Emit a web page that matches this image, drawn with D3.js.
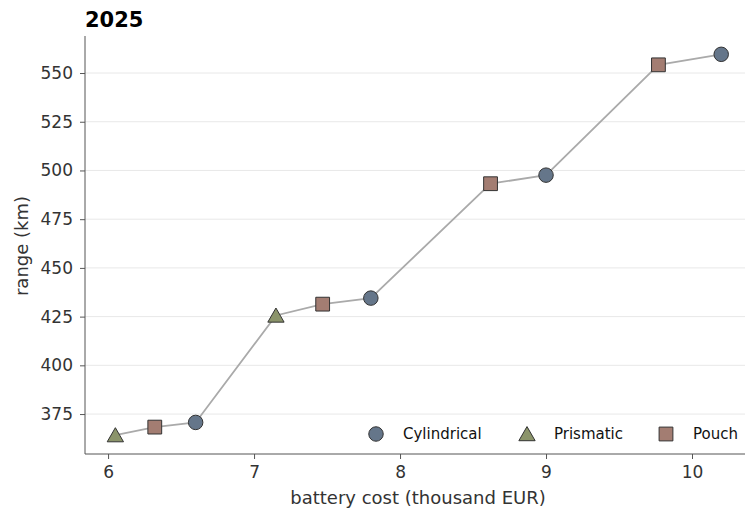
<!DOCTYPE html>
<html><head><meta charset="utf-8">
<script src="https://cdn.jsdelivr.net/npm/d3@7"></script>
<style>body{margin:0;background:#fff}svg{display:block;font-family:"DejaVu Sans",sans-serif}</style>
</head><body><svg id="c" width="746" height="511"></svg>
<script>
const costs  = [6.05, 6.32, 6.60, 7.15, 7.47, 7.80, 8.62, 9.00, 9.77, 10.20];
const ranges = [364.2, 368.3, 370.7, 425.6, 431.4, 434.5, 493.2, 497.6, 554.2, 559.6];
const types  = ["Prismatic","Pouch","Cylindrical","Prismatic","Pouch","Cylindrical","Pouch","Cylindrical","Pouch","Cylindrical"];
const categories = ["Cylindrical","Prismatic","Pouch"];
const colors = ["#65768a","#8b946a","#a37d72"];
const xTicks = [6,7,8,9,10];
const yTicks = [375,400,425,450,475,500,525,550];
const title = "2025";

const svg = d3.select("#c");
const L=85, R=745, T=36, B=454;
const x = d3.scaleLinear().domain([5.842,10.363]).range([L,R]);
const y = d3.scaleLinear().domain([354.5,569]).range([B,T]);
const color = d3.scaleOrdinal().domain(categories).range(colors);

// grid
svg.append("g").selectAll("line").data(yTicks).join("line")
  .attr("x1",L).attr("x2",R).attr("y1",d=>y(d)).attr("y2",d=>y(d))
  .attr("stroke","#e8e8e8").attr("stroke-width",1);

// axes
const ya = svg.append("g").attr("transform",`translate(${L},0)`)
  .call(d3.axisLeft(y).tickValues(yTicks).tickFormat(d3.format("d")).tickSize(5).tickPadding(7));
const xa = svg.append("g").attr("transform",`translate(0,${B})`)
  .call(d3.axisBottom(x).tickValues(xTicks).tickFormat(d3.format("d")).tickSize(5).tickPadding(7));
[ya,xa].forEach(a=>{
  a.selectAll("text").attr("font-size",17).attr("fill","#333").attr("font-family","DejaVu Sans");
  a.selectAll("line").attr("stroke","#555");
  a.select(".domain").remove();
});
svg.append("line").attr("x1",L).attr("x2",L).attr("y1",T).attr("y2",B).attr("stroke","#555");
svg.append("line").attr("x1",L).attr("x2",R).attr("y1",B).attr("y2",B).attr("stroke","#555");

// labels
svg.append("text").attr("x",418).attr("y",504).attr("text-anchor","middle")
  .attr("font-size",18).attr("fill","#333").text("battery cost (thousand EUR)");
svg.append("text").attr("transform",`translate(28,246) rotate(-90)`).attr("text-anchor","middle")
  .attr("font-size",18).attr("fill","#333").text("range (km)");
svg.append("text").attr("x",L).attr("y",27).attr("font-size",21).attr("font-weight","bold").attr("fill","#000").text(title);

// line
const pts = costs.map((c,i)=>({c, r:ranges[i], t:types[i]}));
svg.append("path").datum(pts).attr("fill","none").attr("stroke","#aaaaaa").attr("stroke-width",1.8)
  .attr("d",d3.line().x(d=>x(d.c)).y(d=>y(d.r)));

const sym = {Cylindrical:d3.symbolCircle, Prismatic:d3.symbolTriangle, Pouch:d3.symbolSquare};
const size = {Cylindrical:165, Prismatic:115, Pouch:190};
function drawMarker(g,t,cx,cy){
  const dy = t==="Prismatic" ? 2 : 0;
  g.append("path").attr("d",d3.symbol().type(sym[t]).size(size[t])())
   .attr("transform",`translate(${cx},${cy+dy})`)
   .attr("fill",color(t)).attr("stroke","#333").attr("stroke-width",1);
}
const mg = svg.append("g");
pts.forEach(p=>drawMarker(mg,p.t,x(p.c),y(p.r)));

// legend
const lg = svg.append("g");
const lx = [376,527,666];
categories.forEach((c,i)=>{
  drawMarker(lg,c,lx[i],434);
  lg.append("text").attr("x",lx[i]+27).attr("y",439).attr("font-size",15).attr("fill","#111").text(c);
});
</script></body></html>
